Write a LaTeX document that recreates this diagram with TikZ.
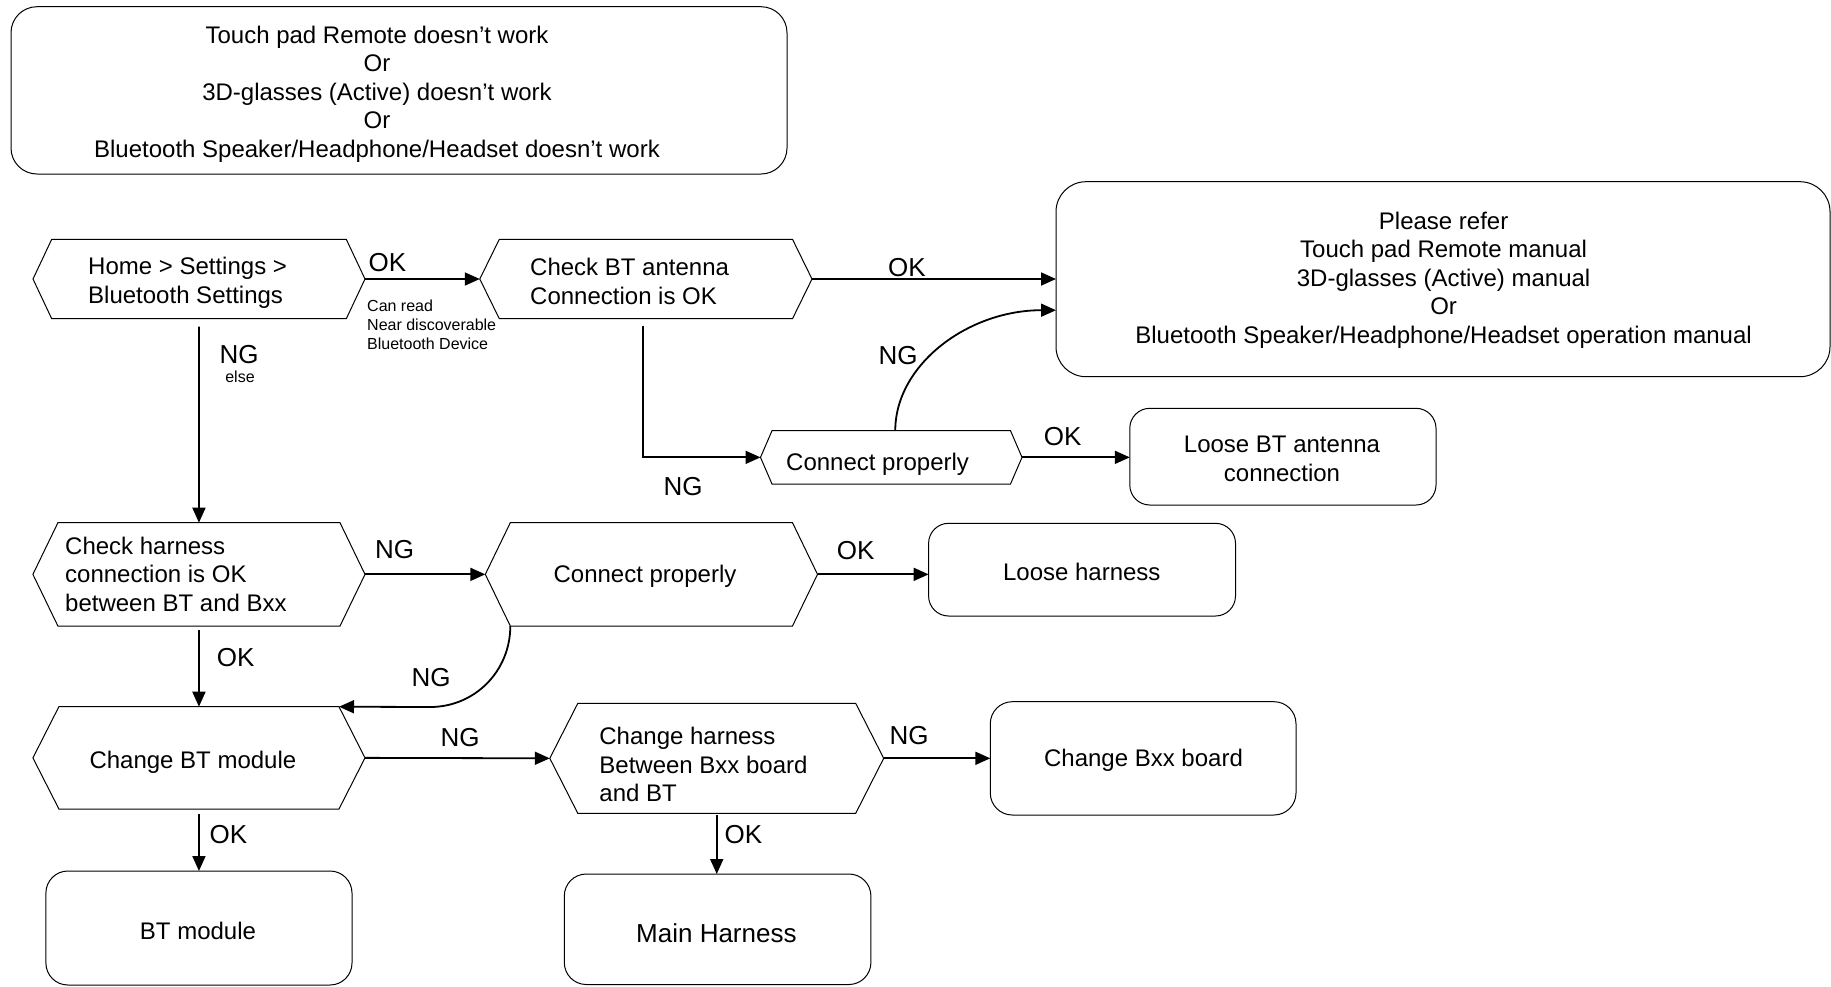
\documentclass[tikz,border=0pt]{standalone}
\usepackage{fontspec}
\setmainfont{Liberation Sans}
\usetikzlibrary{arrows.meta}
\tikzset{
  hexbb/.style={shape=rectangle,draw=none,inner sep=0pt,outer sep=0pt},
  hexline/.style={line width=1pt,black},
  rbox/.style={shape=rectangle,draw=black,line width=1pt,inner sep=0pt,outer sep=0pt},
  txt/.style={inner sep=0pt,font=\fontsize{24}{28.5}\selectfont},
  lbl/.style={inner sep=0pt,font=\fontsize{26}{30}\selectfont},
  small/.style={inner sep=0pt,font=\fontsize{16}{19}\selectfont},
  conn/.style={line width=1.8pt,-{Triangle[length=15pt,width=13pt]}},
}
\newcommand\myhex[6]{%
  \node[hexbb,minimum width={(#4)-(#2)},minimum height={(#5)-(#3)}] (#1) at ({((#2)+(#4))/2},{((#3)+(#5))/2}) {};
  \draw[hexline] (#1.west) -- ([xshift=#6pt]#1.north west) -- ([xshift=-#6pt]#1.north east) -- (#1.east) -- ([xshift=-#6pt]#1.south east) -- ([xshift=#6pt]#1.south west) -- cycle;
}
\newcommand\myrbox[6]{%
  \node[rbox,rounded corners=#6pt,minimum width={(#4)-(#2)},minimum height={(#5)-(#3)}] (#1) at ({((#2)+(#4))/2},{((#3)+(#5))/2}) {};
}
\begin{document}
\begin{tikzpicture}[x=1pt,y=-1pt]
\useasboundingbox (0,0) rectangle (1831,986);
% rounded boxes
\myrbox{top}{11}{6.7}{787}{174}{26}
\node[txt,align=center] (topt) at (377,93.8) {Touch pad Remote doesn’t work\\Or\\3D-glasses (Active) doesn’t work\\Or\\Bluetooth Speaker/Headphone/Headset doesn’t work};
\myrbox{please}{1056}{181.7}{1830}{376.7}{30}
\node[txt,align=center] (pleaset) at (1443.6,280) {Please refer\\Touch pad Remote manual\\3D-glasses (Active) manual\\Or\\Bluetooth Speaker/Headphone/Headset operation manual};
\myrbox{lba}{1129.8}{408.3}{1436}{505}{20}
\node[txt,align=center] (lbat) at (1282,459) {Loose BT antenna\\connection};
\myrbox{lh}{928.6}{523.3}{1235.5}{616}{20}
\node[txt] (lht) at (1081.8,571.7) {Loose harness};
\myrbox{cbx}{990.3}{701.7}{1296}{815}{22}
\node[txt] (cbxt) at (1143.5,760) {Change Bxx board};
\myrbox{btm}{45.9}{871}{352}{985}{22}
\node[txt] (btmt) at (198,931) {BT module};
\myrbox{mh}{564.3}{874}{870.9}{984.5}{22}
\node[txt,font=\fontsize{26}{30}\selectfont] (mht) at (716.4,933) {Main Harness};
% hexagons
\myhex{hx1}{33}{239.3}{365}{318.7}{18.7}
\node[txt,anchor=west,align=left] (hx1t) at (88,283) {Home > Settings >\\Bluetooth Settings};
\myhex{hx2}{479.8}{239.3}{812}{318.7}{19.5}
\node[txt,anchor=west,align=left] (hx2t) at (530,281.5) {Check BT antenna\\Connection is OK};
\myhex{cp1}{760.5}{430.7}{1022}{484}{11.5}
\node[txt,anchor=west] (cp1t) at (786,464) {Connect properly};
\myhex{hx3}{32.9}{522.7}{365}{626}{25}
\node[txt,anchor=west,align=left] (hx3t) at (65,574.2) {Check harness\\connection is OK\\between BT and Bxx};
\myhex{cp2}{485.3}{522.7}{817.5}{626}{25}
\node[txt] (cp2t) at (645,576) {Connect properly};
\myhex{hx5}{32.9}{706.7}{365}{809}{26}
\node[txt] (hx5t) at (192.9,762.7) {Change BT module};
\myhex{hx6}{549.8}{703.3}{883.7}{813.3}{28}
\node[txt,anchor=west,align=left] (hx6t) at (599.2,764.5) {Change harness\\Between Bxx board\\and BT};
% connectors
\draw[conn] (hx1.east) -- (hx2.west);
\node[lbl] (l1) at (387.5,262.5) {OK};
\node[small,anchor=west,align=left] (l1b) at (367,325) {Can read\\Near discoverable\\Bluetooth Device};
\draw[conn] ([yshift=-8pt]hx1.south) -- (hx3.north);
\node[lbl] (l2) at (239,355) {NG};
\node[small] (l2b) at (240,377) {else};
\draw[conn] (hx2.east) -- (hx2.east -| please.west);
\node[lbl] (l3) at (906.8,268) {OK};
\draw[conn] ([xshift=-3pt,yshift=-7pt]hx2.south) |- (cp1.west);
\node[lbl] (l4) at (683,486.7) {NG};
\draw[conn] ([xshift=4pt]cp1.north) .. controls +(0,-66) and +(-88,0) .. ([yshift=-31pt]please.west);
\node[lbl] (l5) at (898,356) {NG};
\draw[conn] (cp1.east) -- (cp1.east -| lba.west);
\node[lbl] (l6) at (1062.7,436.7) {OK};
\draw[conn] (hx3.east) -- (cp2.west);
\node[lbl] (l7) at (394.6,550) {NG};
\draw[conn] (cp2.east) -- (cp2.east -| lh.west);
\node[lbl] (l8) at (855.6,550.7) {OK};
\draw[conn] ([yshift=-4pt]hx3.south) -- (hx5.north);
\node[lbl] (l9) at (235.7,657.5) {OK};
\coordinate (bend2) at (430,707);
\draw[conn] ([xshift=25pt]cp2.south west) .. controls +(0,45) and +(45,0) .. (bend2) -- ([xshift=-26pt]hx5.north east);
\node[lbl] (l10) at (431,678) {NG};
\draw[conn] (hx5.east) -- (hx6.west);
\node[lbl] (l11) at (460,738) {NG};
\draw[conn] (hx6.east) -- (hx6.east -| cbx.west);
\node[lbl] (l12) at (909,736) {NG};
\draw[conn] ([yshift=-5pt]hx5.south) -- (btm.north);
\node[lbl] (l13) at (228.5,835) {OK};
\draw[conn] ([yshift=-2pt]hx6.south) -- (hx6.south |- mh.north);
\node[lbl] (l14) at (743.4,835) {OK};
\end{tikzpicture}
\end{document}
